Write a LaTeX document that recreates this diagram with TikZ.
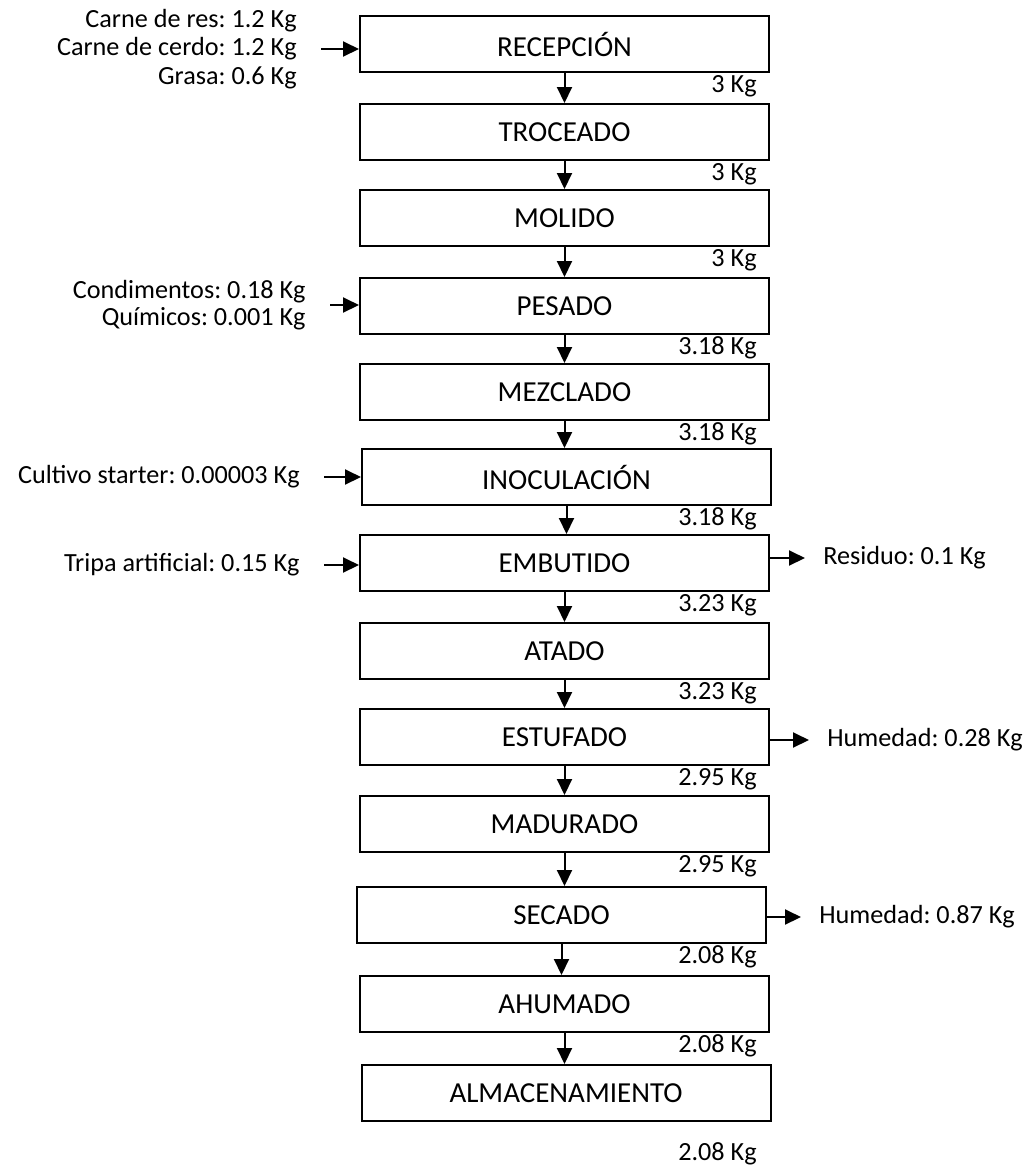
\documentclass[tikz,border=0pt]{standalone}
\usepackage{fontspec}
\setmainfont{Carlito}
\usetikzlibrary{arrows.meta}
\frenchspacing

\begin{document}
\begin{tikzpicture}[
					x=0.5pt,y=-0.5pt,
					pbox/.style={rectangle,draw,line width=1pt,minimum width=204.5pt,minimum height=28pt,inner sep=0pt,font=\fontsize{14.5}{16}\selectfont},
					txt/.style={inner sep=0pt,font=\fontsize{13.1}{14.3}\selectfont},
					kgnode/.style={txt,anchor=base east},
					flow/.style={-{Triangle[length=8pt,width=7.5pt]},line width=1pt}
					]
					\useasboundingbox (0,0) rectangle (1034,1169);
					% etapas del proceso
					\foreach \i/\c/\dx/\lab in {0/44/0/RECEPCIÓN,1/132/0/TROCEADO,2/218/0/MOLIDO,3/306/0/PESADO,4/392/0/MEZCLADO,5/477/2/INOCULACIÓN,6/563/0/EMBUTIDO,7/651/0/ATADO,8/737/0/ESTUFADO,9/824/0/MADURADO,10/915/-3/SECADO,11/1004/0/AHUMADO,12/1093/1.5/ALMACENAMIENTO}{
						\node[pbox] (b\i) at (564.5+\dx,\c) {\lab};
					}
					\foreach \i [evaluate=\i as \j using int(\i+1)] in {0,...,11}{
						\draw[flow] (b\i.south) -- (b\i.south |- b\j.north);
					}
					% masas
					\foreach \i/\c/\m in {0/44/3,1/132/3,2/218/3,3/306/3.18,4/392/3.18,5/477/3.18,6/563/3.23,7/651/3.23,8/737/2.95,9/824/2.95,10/915/2.08,11/1004/2.08}{
						\node[kgnode] (m\i) at (757,\c+48) {\m\ Kg};
					}
					\node[kgnode] (m12) at (757,1160) {2.08 Kg};
					% entradas
					\node[txt,align=right,anchor=east] (in0) at (297,49) {Carne de res: 1.2 Kg\\Carne de cerdo: 1.2 Kg\\Grasa: 0.6 Kg};
					\node[txt,align=right,anchor=east] (in3) at (306,305) {Condimentos: 0.18 Kg\\[-1pt]Químicos: 0.001 Kg};
					\node[txt,anchor=east] (in5) at (300,477) {Cultivo starter: 0.00003 Kg};
					\node[txt,anchor=east] (in6) at (300,565) {Tripa artificial: 0.15 Kg};
					\foreach \k in {0,3,5,6}{
						\draw[flow,shorten <=12pt] (in\k.east) -- (in\k.east -| b\k.west);
					}
					% salidas
					\node[txt,anchor=west] (out6) at (823,558) {Residuo: 0.1 Kg};
					\node[txt,anchor=west] (out8) at (827,740) {Humedad: 0.28 Kg};
					\node[txt,anchor=west] (out10) at (819,917) {Humedad: 0.87 Kg};
					\foreach \k in {6,8,10}{
						\draw[flow,shorten >=9pt] (b\k.east |- out\k.west) -- (out\k.west);
					}
				\end{tikzpicture}
\end{document}
